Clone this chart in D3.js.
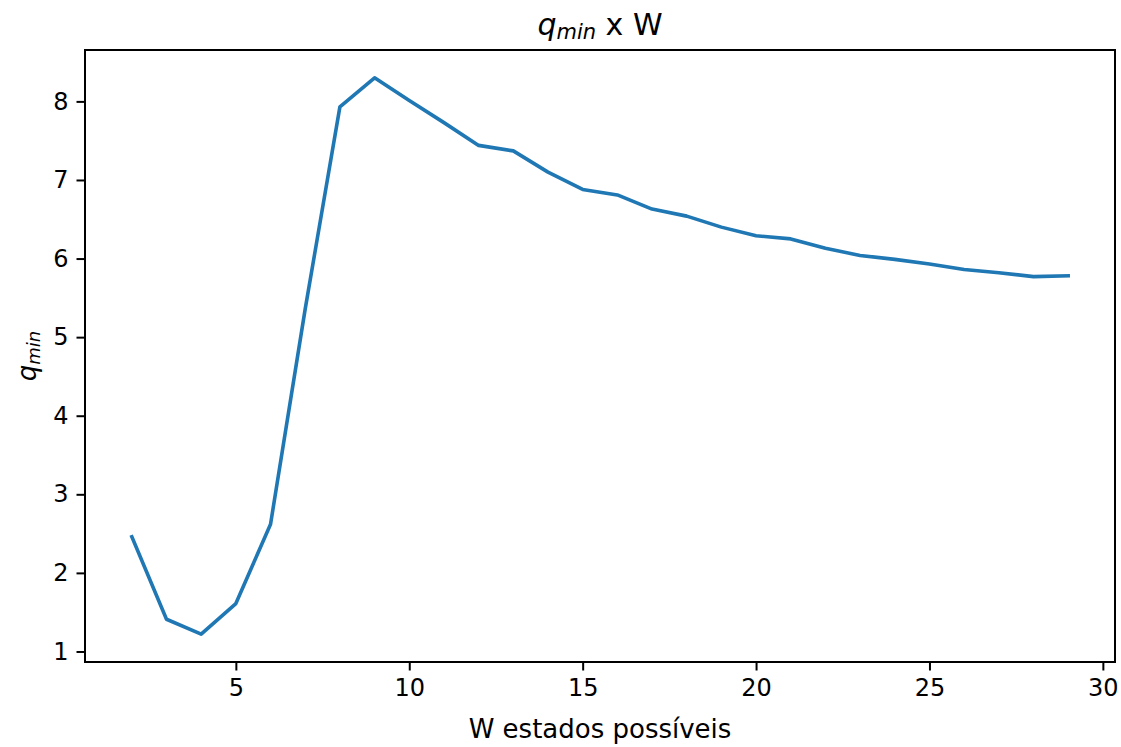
<!DOCTYPE html>
<html>
<head>
<meta charset="utf-8">
<script src="https://cdn.jsdelivr.net/npm/d3@7"></script>
<style>
  html, body { margin: 0; padding: 0; background: #fff; }
  svg { display: block; }
  text { font-family: "DejaVu Sans", sans-serif; fill: #000; }
</style>
</head>
<body>
<svg id="chart" width="1121" height="747"></svg>
<script>
// ---- data ----
const W = [2, 3, 4, 5, 6, 7, 8, 9, 10, 11, 12, 13, 14, 15, 16, 17, 18, 19, 20, 21, 22, 23, 24, 25, 26, 27, 28, 29];
const qmin = [2.46, 1.41, 1.22, 1.61, 2.62, 5.36, 7.93, 8.30, 8.01, 7.73, 7.44, 7.37, 7.10, 6.88, 6.81, 6.63,
              6.54, 6.40, 6.29, 6.25, 6.13, 6.04, 5.99, 5.93, 5.86, 5.82, 5.77, 5.78];
const xTicks = [5, 10, 15, 20, 25, 30];
const yTicks = [1, 2, 3, 4, 5, 6, 7, 8];
const xLabel = "W estados possíveis";

// ---- layout ----
const svg = d3.select("#chart");
const L = 85, R = 1115, T = 50, B = 662;

const xMin = d3.min(W), xMax = d3.max(W), xPad = (xMax - xMin) * 0.05;
const yMin = d3.min(qmin), yMax = d3.max(qmin), yPad = (yMax - yMin) * 0.05;
const x = d3.scaleLinear().domain([xMin - xPad, xMax + xPad]).range([L, R]);
const y = d3.scaleLinear().domain([yMin - yPad, yMax + yPad]).range([B, T]);

const fs = 24;

// line
const line = d3.line().x((d, i) => x(W[i])).y(d => y(d));
svg.append("path")
  .datum(qmin)
  .attr("d", line)
  .attr("fill", "none")
  .attr("stroke", "#1f77b4")
  .attr("stroke-width", 3.6)
  .attr("stroke-linejoin", "round")
  .attr("stroke-linecap", "square");

// axes
const xAxis = d3.axisBottom(x).tickValues(xTicks).tickSize(8.5).tickPadding(8).tickFormat(d3.format("d"));
const yAxis = d3.axisLeft(y).tickValues(yTicks).tickSize(8.5).tickPadding(8).tickFormat(d3.format("d"));

const gx = svg.append("g").attr("transform", `translate(0,${B})`).call(xAxis);
const gy = svg.append("g").attr("transform", `translate(${L},0)`).call(yAxis);
[gx, gy].forEach(g => {
  g.select(".domain").remove();
  g.selectAll(".tick line").attr("stroke", "#000").attr("stroke-width", 2);
  g.selectAll(".tick text").style("font-family", "DejaVu Sans").style("font-size", fs + "px").attr("fill", "#262626");
});

// frame
svg.append("rect")
  .attr("x", L).attr("y", T).attr("width", R - L).attr("height", B - T)
  .attr("fill", "none").attr("stroke", "#000").attr("stroke-width", 2);

// x label
svg.append("text")
  .attr("x", (L + R) / 2).attr("y", 738)
  .attr("text-anchor", "middle")
  .style("font-size", "26px")
  .attr("fill", "#262626")
  .text(xLabel);

// y label (q_min, italic math)
const yl = svg.append("text")
  .attr("transform", `translate(36,${(T + B) / 2}) rotate(-90)`)
  .attr("text-anchor", "middle")
  .style("font-size", "26px");
yl.append("tspan").style("font-style", "italic").text("q");
yl.append("tspan").style("font-style", "italic").style("font-size", "18px").attr("dy", 4).text("min");

// title
const tt = svg.append("text")
  .attr("x", (L + R) / 2).attr("y", 35)
  .attr("text-anchor", "middle")
  .style("font-size", "30px");
tt.append("tspan").style("font-style", "italic").text("q");
tt.append("tspan").style("font-style", "italic").style("font-size", "21px").attr("dy", 4).text("min");
tt.append("tspan").attr("dy", -4).text(" x W");
</script>
</body>
</html>
